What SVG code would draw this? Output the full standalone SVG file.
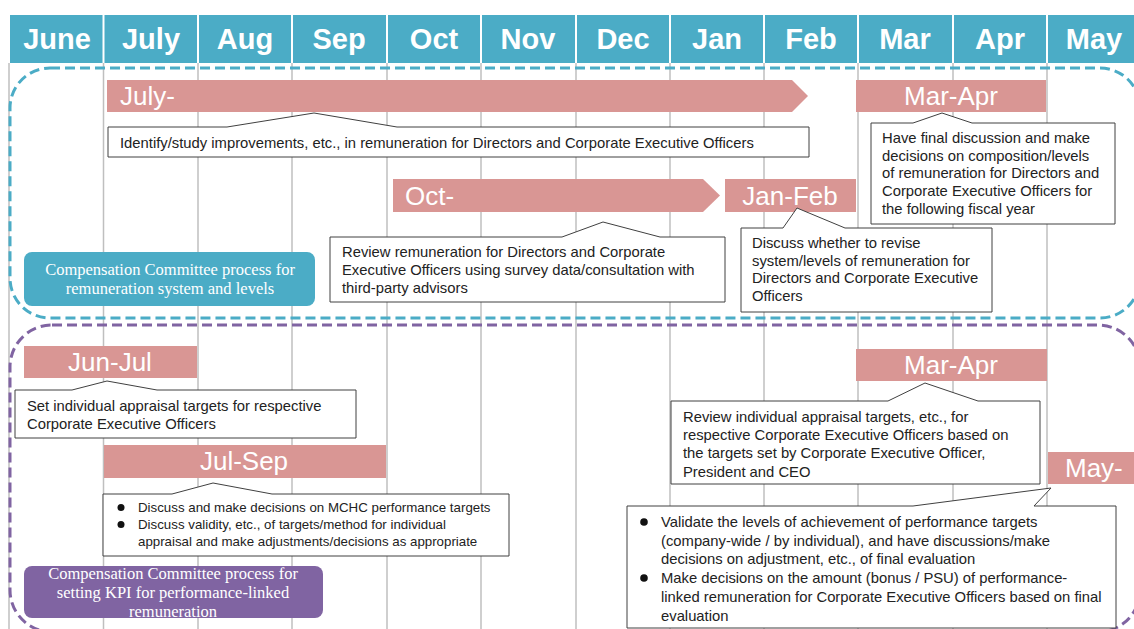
<svg xmlns="http://www.w3.org/2000/svg" width="1134" height="629" viewBox="0 0 1134 629">
<style>
.hdr{fill:#4bacc6}
.mon{font-family:"Liberation Sans",Arial,sans-serif;font-weight:bold;font-size:29px;fill:#fff;text-anchor:middle}
.grid{stroke:#bfbfbf;stroke-width:1.5}
.sep{stroke:#fff;stroke-width:2}
.bar{fill:#d99694}
.bt{font-family:"Liberation Sans",Arial,sans-serif;font-size:26px;fill:#fff}
.co{fill:#fff;stroke:#404040;stroke-width:1}
.ct{font-family:"Liberation Sans",Arial,sans-serif;font-size:14.8px;fill:#222}
.cs{font-family:"Liberation Sans",Arial,sans-serif;font-size:13.3px;fill:#222}
.lb{font-family:"Liberation Serif","Times New Roman",serif;font-size:16.5px;fill:#fff;text-anchor:middle}
.dot{fill:#111}
</style>
<rect width="1134" height="629" fill="#fff"/>
<g id="header">
<rect class="hdr" x="10" y="15" width="1124" height="48"/>
<g class="sep">
<line x1="103.5" y1="15" x2="103.5" y2="63"/><line x1="198" y1="15" x2="198" y2="63"/><line x1="292" y1="15" x2="292" y2="63"/><line x1="387" y1="15" x2="387" y2="63"/><line x1="481" y1="15" x2="481" y2="63"/><line x1="576" y1="15" x2="576" y2="63"/><line x1="670" y1="15" x2="670" y2="63"/><line x1="764" y1="15" x2="764" y2="63"/><line x1="858" y1="15" x2="858" y2="63"/><line x1="953" y1="15" x2="953" y2="63"/><line x1="1047" y1="15" x2="1047" y2="63"/>
</g>
<g class="mon">
<text x="57" y="49">June</text><text x="151" y="49">July</text><text x="245" y="49">Aug</text><text x="339" y="49">Sep</text><text x="434" y="49">Oct</text><text x="528" y="49">Nov</text><text x="623" y="49">Dec</text><text x="717" y="49">Jan</text><text x="811" y="49">Feb</text><text x="905" y="49">Mar</text><text x="1000" y="49">Apr</text><text x="1094" y="49">May</text>
</g>
</g>
<g id="grid" class="grid">
<line x1="9" y1="63" x2="9" y2="629"/><line x1="103.5" y1="63" x2="103.5" y2="629"/><line x1="198" y1="63" x2="198" y2="629"/><line x1="292" y1="63" x2="292" y2="629"/><line x1="387" y1="63" x2="387" y2="629"/><line x1="481" y1="63" x2="481" y2="629"/><line x1="576" y1="63" x2="576" y2="629"/><line x1="670" y1="63" x2="670" y2="629"/><line x1="764" y1="63" x2="764" y2="629"/><line x1="858" y1="63" x2="858" y2="629"/><line x1="953" y1="63" x2="953" y2="629"/><line x1="1047" y1="63" x2="1047" y2="629"/>
</g>
<g id="section-system">
<rect x="10" y="68" width="1130" height="250" rx="40" ry="40" fill="none" stroke="#4bacc6" stroke-width="3" stroke-dasharray="10 5"/>
</g>
<g id="section-kpi">
<rect x="10" y="325" width="1130" height="307" rx="42" ry="42" fill="none" stroke="#8064a2" stroke-width="3" stroke-dasharray="10 5"/>
</g>
<g id="bar-july">
<polygon class="bar" points="107,80 792,80 808,96 792,112 107,112"/>
<text class="bt" x="120" y="105">July-</text>
</g>
<g id="bar-marapr-1">
<rect class="bar" x="856" y="80" width="190" height="32"/>
<text class="bt" x="951" y="105" text-anchor="middle">Mar-Apr</text>
</g>
<g id="bar-oct">
<polygon class="bar" points="393,179 703,179 720,195.5 703,212 393,212"/>
<text class="bt" x="405" y="205">Oct-</text>
</g>
<g id="bar-janfeb">
<rect class="bar" x="725" y="179" width="131" height="33"/>
<text class="bt" x="790" y="205" text-anchor="middle">Jan-Feb</text>
</g>
<g id="bar-junjul">
<rect class="bar" x="24" y="346" width="173" height="32"/>
<text class="bt" x="110" y="371" text-anchor="middle">Jun-Jul</text>
</g>
<g id="bar-julsep">
<rect class="bar" x="104" y="445" width="282" height="33"/>
<text class="bt" x="244" y="470" text-anchor="middle">Jul-Sep</text>
</g>
<g id="bar-marapr-2">
<rect class="bar" x="856" y="349" width="191" height="32"/>
<text class="bt" x="951" y="374" text-anchor="middle">Mar-Apr</text>
</g>
<g id="bar-may">
<rect class="bar" x="1048" y="452" width="86" height="32"/>
<text class="bt" x="1065" y="477">May-</text>
</g>
<g id="callout-july">
<path class="co" d="M108,127 L227,127 L314,113 L397,127 L809,127 L809,157 L108,157 Z"/>
<text class="ct" x="120" y="148">Identify/study improvements, etc., in remuneration for Directors and Corporate Executive Officers</text>
</g>
<g id="callout-marapr-1">
<path class="co" d="M871,123 L913,123 L942,113 L972,123 L1115,123 L1115,224 L871,224 Z"/>
<text class="ct"><tspan x="882" y="143">Have final discussion and make</tspan><tspan x="882" y="160.7">decisions on composition/levels</tspan><tspan x="882" y="178.4">of remuneration for Directors and</tspan><tspan x="882" y="196.1">Corporate Executive Officers for</tspan><tspan x="882" y="213.8">the following fiscal year</tspan></text>
</g>
<g id="callout-oct">
<path class="co" d="M330,237 L562,237 L603,222 L660,237 L725,237 L725,302 L330,302 Z"/>
<text class="ct"><tspan x="342" y="257">Review remuneration for Directors and Corporate</tspan><tspan x="342" y="275">Executive Officers using survey data/consultation with</tspan><tspan x="342" y="293">third-party advisors</tspan></text>
</g>
<g id="callout-janfeb">
<path class="co" d="M741,228 L783,228 L797,208 L845,228 L992,228 L992,312 L741,312 Z"/>
<text class="ct"><tspan x="752" y="248">Discuss whether to revise</tspan><tspan x="752" y="265.7">system/levels of remuneration for</tspan><tspan x="752" y="283.4">Directors and Corporate Executive</tspan><tspan x="752" y="301">Officers</tspan></text>
</g>
<g id="label-system">
<rect x="24" y="252" width="291" height="54" rx="8" ry="8" fill="#4bacc6"/>
<text class="lb"><tspan x="170" y="275">Compensation Committee process for</tspan><tspan x="170" y="294">remuneration system and levels</tspan></text>
</g>
<g id="callout-junjul">
<path class="co" d="M15,390 L72,390 L107,381 L157,390 L356,390 L356,438 L15,438 Z"/>
<text class="ct"><tspan x="27" y="411">Set individual appraisal targets for respective</tspan><tspan x="27" y="428.5">Corporate Executive Officers</tspan></text>
</g>
<g id="callout-julsep">
<path class="co" d="M103,494 L172,494 L213,483 L272,494 L509,494 L509,556 L103,556 Z"/>
<circle class="dot" cx="121" cy="507.5" r="3.5"/>
<circle class="dot" cx="121" cy="524.5" r="3.5"/>
<text class="cs"><tspan x="138" y="512">Discuss and make decisions on MCHC performance targets</tspan><tspan x="138" y="529">Discuss validity, etc., of targets/method for individual</tspan><tspan x="138" y="546">appraisal and make adjustments/decisions as appropriate</tspan></text>
</g>
<g id="callout-marapr-2">
<path class="co" d="M671,401 L888,401 L925,383 L978,401 L1040,401 L1040,484 L671,484 Z"/>
<text class="ct"><tspan x="683" y="422">Review individual appraisal targets, etc., for</tspan><tspan x="683" y="440.2">respective Corporate Executive Officers based on</tspan><tspan x="683" y="458.4">the targets set by Corporate Executive Officer,</tspan><tspan x="683" y="476.5">President and CEO</tspan></text>
</g>
<g id="callout-may">
<path class="co" d="M627,506 L913,506 L1051,488 L1034,506 L1116,506 L1116,628 L627,628 Z"/>
<circle class="dot" cx="644" cy="522" r="3.8"/>
<circle class="dot" cx="644" cy="578" r="3.8"/>
<text class="ct"><tspan x="661" y="527">Validate the levels of achievement of performance targets</tspan><tspan x="661" y="545.7">(company-wide / by individual), and have discussions/make</tspan><tspan x="661" y="564.4">decisions on adjustment, etc., of final evaluation</tspan><tspan x="661" y="583.1">Make decisions on the amount (bonus / PSU) of performance-</tspan><tspan x="661" y="601.8">linked remuneration for Corporate Executive Officers based on final</tspan><tspan x="661" y="620.5">evaluation</tspan></text>
</g>
<g id="label-kpi">
<rect x="24" y="566" width="299" height="52" rx="8" ry="8" fill="#8064a2"/>
<text class="lb"><tspan x="173" y="579">Compensation Committee process for</tspan><tspan x="173" y="598">setting KPI for performance-linked</tspan><tspan x="173" y="617">remuneration</tspan></text>
</g>
</svg>
